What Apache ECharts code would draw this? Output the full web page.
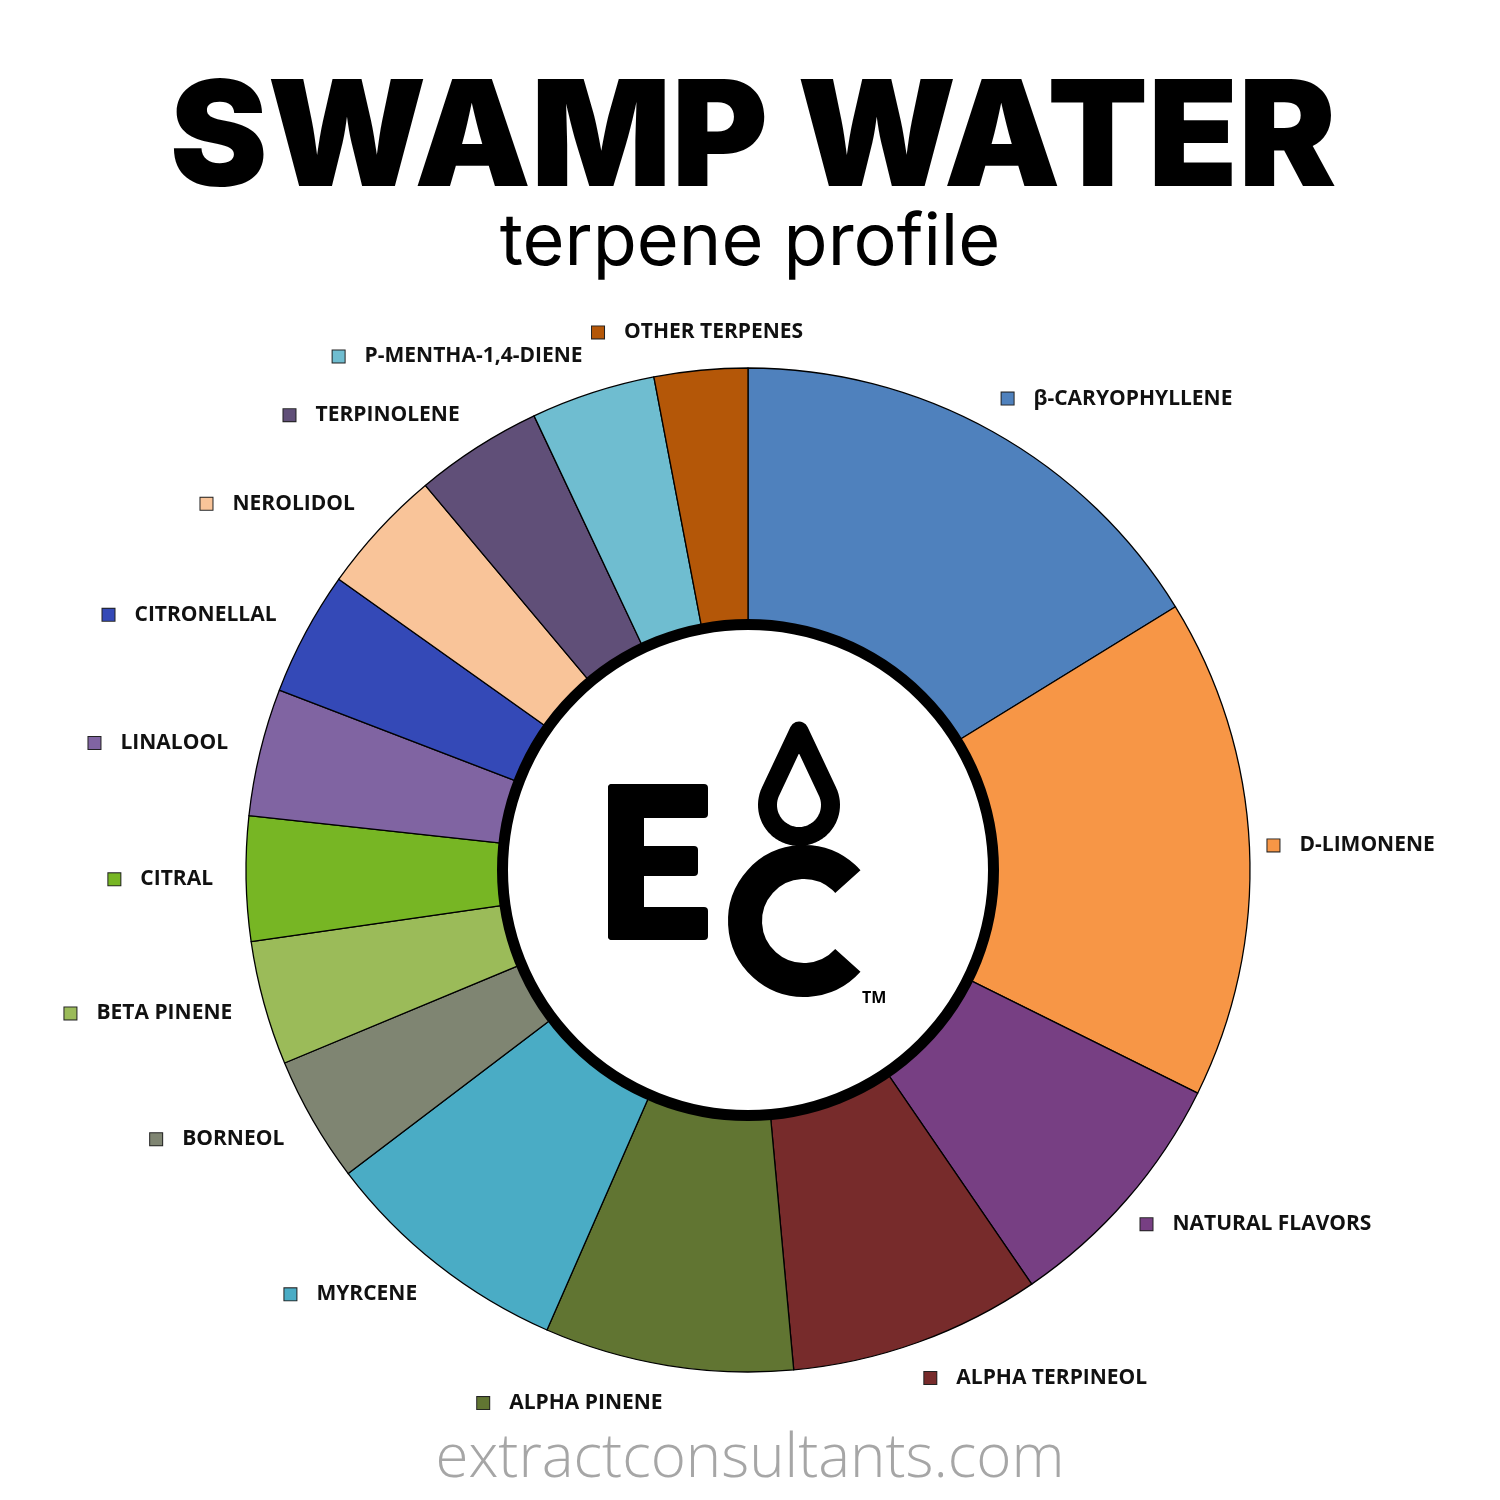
<!DOCTYPE html>
<html><head><meta charset="utf-8">
<script src="https://cdn.jsdelivr.net/npm/echarts@6/dist/echarts.min.js"></script>
<style>html,body{margin:0;padding:0;background:#fff}#c{width:1500px;height:1500px}</style>
</head><body><div id="c"></div>
<script>
// ---- data ----
const categories = ['β-CARYOPHYLLENE','D-LIMONENE','NATURAL FLAVORS','ALPHA TERPINEOL','ALPHA PINENE','MYRCENE','BORNEOL','BETA PINENE','CITRAL','LINALOOL','CITRONELLAL','NEROLIDOL','TERPINOLENE','P-MENTHA-1,4-DIENE','OTHER TERPENES'];
const values = [16.2, 16.1, 8.1, 8.1, 8.0, 8.1, 4.05, 4.0, 4.0, 4.1, 4.0, 4.05, 4.1, 4.0, 3.0];
const colors = ['#4F81BD','#F79646','#773F83','#772B2B','#617532','#4AACC5','#7F8572','#9BBB59','#77B624','#8064A2','#3449B7','#F9C499','#604F78','#6FBDD0','#B45708'];
const titleText = 'SWAMP WATER';
const subtitleText = 'terpene profile';
const footerText = 'extractconsultants.com';

// ---- layout ----
const CX = 748, CY = 870, R0 = 246, R1 = 502;
const LABEL_RX_RIGHT = 520, LABEL_RX_LEFT = 535, LABEL_RY = 540;
const total = values.reduce((a, b) => a + b, 0);
function midAngle(i) {
  let s = 0;
  for (let k = 0; k < i; k++) s += values[k];
  return (s + values[i] / 2) / total * 2 * Math.PI;
}
function richFor(color) {
  return {
    m: { width: 12, height: 12, backgroundColor: color, borderColor: '#222', borderWidth: 1 },
    s: { width: 20 },
    t: { fontFamily: '"Open Sans", sans-serif', fontWeight: 'bold', fontSize: 21, color: '#111' }
  };
}
const deg = Math.PI / 180;

// droplet outline (logo decoration)
function dropletPoints(cx, cy, r, apexY) {
  const d = cy - apexY;
  const alpha = Math.asin(r / d);
  const a0 = -alpha;            // right tangent point (canvas angle)
  const a1 = Math.PI + alpha;   // left tangent point
  const pts = [[cx, apexY]];
  const n = 48;
  for (let k = 0; k <= n; k++) {
    const a = a0 + (a1 - a0) * k / n;
    pts.push([cx + r * Math.cos(a), cy + r * Math.sin(a)]);
  }
  return pts;
}

const chart = echarts.init(document.getElementById('c'), null, { renderer: 'canvas' });
chart.setOption({
  animation: false,
  backgroundColor: '#fff',
  series: [{
    type: 'pie',
    center: [CX, CY],
    radius: [R0, R1],
    startAngle: 90,
    clockwise: true,
    avoidLabelOverlap: false,
    itemStyle: { borderColor: '#000', borderWidth: 1.3 },
    emphasis: { disabled: true },
    label: {
      show: true,
      position: 'outside',
      formatter: p => '{m|}{s|}{t|' + p.name + '}'
    },
    labelLine: { show: false },
    labelLayout: function (p) {
      const a = midAngle(p.dataIndex);
      const sx = Math.sin(a), cy = -Math.cos(a);
      const rx = sx > 0 ? LABEL_RX_RIGHT : LABEL_RX_LEFT;
      return {
        x: CX + rx * sx,
        y: CY + LABEL_RY * cy,
        align: sx > 0.25 ? 'left' : (sx < -0.12 ? 'right' : 'center'),
        verticalAlign: 'middle'
      };
    },
    data: categories.map((n, i) => ({
      name: n, value: values[i],
      itemStyle: { color: colors[i] },
      label: { rich: richFor(colors[i]) }
    }))
  }],
  graphic: [
    { type: 'text', z: 10, style: { text: titleText, x: 753, y: 142, align: 'center', verticalAlign: 'middle', fontFamily: 'Inter, sans-serif', fontWeight: 900, fontSize: 147, fill: '#000' } },
    { type: 'text', z: 10, style: { text: subtitleText, x: 750, y: 243, align: 'center', verticalAlign: 'middle', fontFamily: 'Inter, sans-serif', fontWeight: 400, fontSize: 72, fill: '#000' } },
    { type: 'text', z: 10, style: { text: footerText, x: 750, y: 1460, align: 'center', verticalAlign: 'middle', fontFamily: '"Open Sans", sans-serif', fontWeight: 300, fontSize: 60, fill: '#a6a6a6' } },
    // inner white disc with black ring
    { type: 'circle', z: 10, shape: { cx: CX, cy: CY, r: 245.5 }, style: { fill: '#fff', stroke: '#000', lineWidth: 11 } },
    // logo: E
    { type: 'rect', z: 11, shape: { x: 608, y: 784, width: 36, height: 156, r: 4 }, style: { fill: '#000' } },
    { type: 'rect', z: 11, shape: { x: 608, y: 784, width: 100, height: 34, r: 4 }, style: { fill: '#000' } },
    { type: 'rect', z: 11, shape: { x: 608, y: 846, width: 90, height: 30, r: 4 }, style: { fill: '#000' } },
    { type: 'rect', z: 11, shape: { x: 608, y: 907, width: 100, height: 33, r: 4 }, style: { fill: '#000' } },
    // logo: C
    { type: 'arc', z: 11, shape: { cx: 804, cy: 921, r: 59, startAngle: 42 * deg, endAngle: 318 * deg, clockwise: true }, style: { fill: null, stroke: '#000', lineWidth: 34, lineCap: 'butt' } },
    // logo: droplet
    { type: 'polygon', z: 11, shape: { points: dropletPoints(799, 805, 31.5, 731) }, style: { fill: '#fff', stroke: '#000', lineWidth: 19, lineJoin: 'round' } },
    { type: 'text', z: 11, style: { text: 'TM', x: 862, y: 998, align: 'left', verticalAlign: 'middle', fontFamily: '"Open Sans", sans-serif', fontWeight: 'bold', fontSize: 16, fill: '#000' } }
  ]
});
</script></body></html>
